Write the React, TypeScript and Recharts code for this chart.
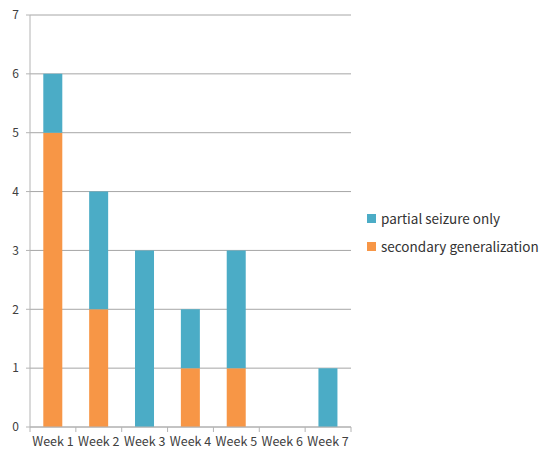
import React from "react";
import { BarChart, Bar, XAxis, YAxis, CartesianGrid } from "recharts";

const weeks = ["Week 1", "Week 2", "Week 3", "Week 4", "Week 5", "Week 6", "Week 7"];
const secondaryGeneralization = [5, 2, 0, 1, 1, 0, 0];
const partialSeizureOnly = [1, 2, 3, 1, 2, 0, 1];
const yTicks = [0, 1, 2, 3, 4, 5, 6, 7];

const seriesNames = {
  partial: "partial seizure only",
  secondary: "secondary generalization",
};
const colors = { partial: "#4BACC6", secondary: "#F79646" };

const data = weeks.map((w, i) => ({
  week: w,
  secondary: secondaryGeneralization[i],
  partial: partialSeizureOnly[i],
}));

const FONT = "'Noto Sans CJK KR', 'DejaVu Sans', sans-serif";
const TEXT = "#404040";
const AXIS = "#b4b4b4";

const XTick = (props: any) => {
  const { x, y, payload, index, width } = props;
  const band = (width || 321) / weeks.length;
  const left = x - band / 2;
  return (
    <g>
      <line x1={left} x2={left} y1={y} y2={y + 5} stroke={AXIS} />
      {index === weeks.length - 1 && (
        <line x1={left + band} x2={left + band} y1={y} y2={y + 5} stroke={AXIS} />
      )}
      <text x={x} y={y + 19} textAnchor="middle" fill={TEXT} fontSize={12.5} fontFamily={FONT}>
        {payload.value}
      </text>
    </g>
  );
};

const LegendBox = () => {
  const items = [
    { key: "partial", label: seriesNames.partial },
    { key: "secondary", label: seriesNames.secondary },
  ];
  return (
    <div
      style={{
        position: "absolute",
        left: 367,
        top: 204,
        width: 180,
        fontFamily: FONT,
        fontSize: 13.5,
        color: "#333",
      }}
    >
      {items.map((it) => (
        <div key={it.key} style={{ display: "flex", alignItems: "center", height: 28, whiteSpace: "nowrap" }}>
          <span
            style={{
              display: "inline-block",
              width: 9,
              height: 9,
              background: (colors as any)[it.key],
              marginRight: 5,
            }}
          />
          <span>{it.label}</span>
        </div>
      ))}
    </div>
  );
};

export default function App() {
  return (
    <div style={{ position: "absolute", left: 0, top: 0, width: 547, height: 451, background: "#fff" }}>
      <BarChart
        width={547}
        height={451}
        data={data}
        margin={{ top: 15, right: 196, bottom: 0, left: 0 }}
        barCategoryGap="29%"
      >
        <CartesianGrid vertical={false} stroke="#a6a6a6" />
        <XAxis
          dataKey="week"
          height={24}
          tickLine={false}
          tickSize={0}
          tickMargin={0}
          axisLine={{ stroke: AXIS }}
          tick={<XTick />}
          interval={0}
        />
        <YAxis
          width={30}
          domain={[0, 7]}
          ticks={yTicks}
          tickSize={4}
          tickMargin={7}
          tickLine={{ stroke: AXIS }}
          axisLine={{ stroke: AXIS }}
          tick={{ fill: TEXT, fontSize: 12, fontFamily: FONT }}
        />
        <Bar dataKey="secondary" stackId="a" fill={colors.secondary} name={seriesNames.secondary} isAnimationActive={false} />
        <Bar dataKey="partial" stackId="a" fill={colors.partial} name={seriesNames.partial} isAnimationActive={false} />
      </BarChart>
      <LegendBox />
    </div>
  );
}
